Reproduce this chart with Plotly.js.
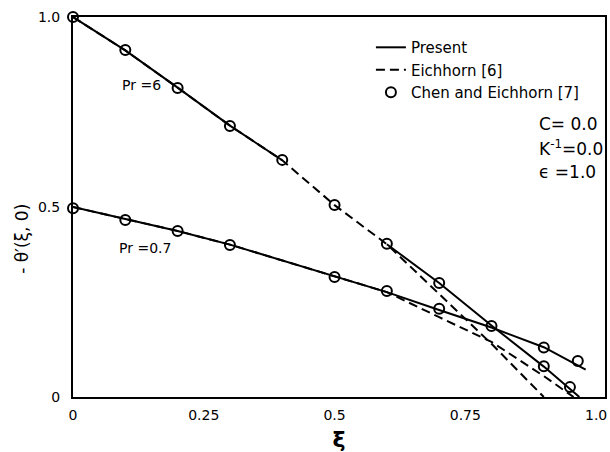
<!DOCTYPE html>
<html>
<head>
<meta charset="utf-8">
<script src="https://cdn.plot.ly/plotly-3.0.1.min.js"></script>
<style>html,body{margin:0;padding:0;background:#fff;}#chart{width:610px;height:452px;}</style>
</head>
<body>
<div id="chart"></div>
<script>
// Present (solid) curves
const presentXi6 = [0, 0.1, 0.2, 0.3, 0.4, 0.5, 0.6, 0.7, 0.8, 0.9, 0.968];
const presentPr6 = [1.0, 0.912, 0.814, 0.714, 0.623, null, 0.402, 0.300, 0.188, 0.080, 0.0];
const presentXi07 = [0, 0.1, 0.2, 0.3, 0.4, 0.5, 0.6, 0.7, 0.8, 0.9, 0.98];
const presentPr07 = [0.5, 0.468, 0.437, 0.401, 0.360, 0.318, 0.276, 0.229, 0.183, 0.131, 0.072];
// Eichhorn [6] (dashed)
const eichXi6 = [0, 0.1, 0.2, 0.3, 0.4, 0.5, 0.6, 0.7, 0.8, 0.9];
const eichPr6 = [1.0, 0.912, 0.814, 0.714, 0.623, 0.505, 0.402, 0.272, 0.140, 0.0];
const eichXi07 = [0, 0.1, 0.2, 0.3, 0.4, 0.5, 0.6, 0.7, 0.8, 0.9, 0.957];
const eichPr07 = [0.5, 0.468, 0.437, 0.401, 0.360, 0.318, 0.276, 0.210, 0.145, 0.055, 0.0];
// Chen and Eichhorn [7] (circles)
const chenXi6 = [0, 0.1, 0.2, 0.3, 0.4, 0.5, 0.6, 0.7, 0.8, 0.9, 0.95];
const chenPr6 = [1.0, 0.913, 0.813, 0.713, 0.624, 0.505, 0.403, 0.300, 0.187, 0.081, 0.026];
const chenXi07 = [0, 0.1, 0.2, 0.3, 0.5, 0.6, 0.7, 0.9, 0.965];
const chenPr07 = [0.497, 0.466, 0.437, 0.400, 0.316, 0.279, 0.232, 0.130, 0.095];
// Axis ticks
const xTickVals = [0, 0.25, 0.5, 0.75, 1.0];
const xTickText = ["0", "0.25", "0.5", "0.75", "1.0"];
const yTickVals = [0, 0.5, 1.0];
const yTickText = ["0", "0.5", "1.0"];

const FONT = "DejaVu Sans, sans-serif";
const dashLine = {color: "#000", width: 2, dash: "9px,5px"};
const solidLine = {color: "#000", width: 2};
const circ = {symbol: "circle-open", size: 10, color: "#000", line: {width: 2, color: "#000"}};

const traces = [
  {x: eichXi6, y: eichPr6, mode: "lines", line: dashLine, name: "Eichhorn [6]", legendrank: 2, showlegend: true, cliponaxis: false},
  {x: eichXi07, y: eichPr07, mode: "lines", line: dashLine, name: "Eichhorn [6]", showlegend: false, cliponaxis: false},
  {x: presentXi6, y: presentPr6, mode: "lines", line: solidLine, name: "Present", legendrank: 1, connectgaps: false, cliponaxis: false},
  {x: presentXi07, y: presentPr07, mode: "lines", line: solidLine, name: "Present", showlegend: false, cliponaxis: false},
  {x: chenXi6, y: chenPr6, mode: "markers", marker: circ, name: "Chen and Eichhorn [7]", legendrank: 3, cliponaxis: false},
  {x: chenXi07, y: chenPr07, mode: "markers", marker: circ, name: "Chen and Eichhorn [7]", showlegend: false, cliponaxis: false}
];

const note = (x, y, text, size) => ({xref: "paper", yref: "paper", x: x, y: y, xanchor: "left", yanchor: "middle",
  text: text, showarrow: false, font: {family: FONT, size: size, color: "#000"}});

const layout = {
  width: 610, height: 452,
  margin: {l: 73, r: 5, t: 17, b: 55},
  paper_bgcolor: "#fff", plot_bgcolor: "#fff",
  font: {family: FONT, size: 14, color: "#000"},
  showlegend: true,
  legend: {x: 0.56, y: 0.963, xanchor: "left", yanchor: "top", bgcolor: "rgba(0,0,0,0)",
           font: {family: FONT, size: 15, color: "#000"}, tracegroupgap: 0},
  xaxis: {range: [0, 1.017], tickvals: xTickVals, ticktext: xTickText, showgrid: false, zeroline: false,
          showline: true, mirror: true, linecolor: "#000", linewidth: 2, ticks: "",
          ticklabelstandoff: 4, tickfont: {family: FONT, size: 14, color: "#000"},
          title: {text: "<b>ξ</b>", font: {family: FONT, size: 22, color: "#000"}, standoff: 14}},
  yaxis: {range: [0, 1.0], tickvals: yTickVals, ticktext: yTickText, showgrid: false, zeroline: false,
          showline: true, mirror: true, linecolor: "#000", linewidth: 2, ticks: "",
          ticklabelstandoff: 8, tickfont: {family: FONT, size: 14, color: "#000"}},
  annotations: [
    {xref: "paper", yref: "paper", x: -0.096, y: 0.416, xanchor: "center", yanchor: "middle",
     text: "- θ′(ξ, 0)", textangle: -90, showarrow: false,
     font: {family: FONT, size: 17, color: "#000"}},
    {xref: "x", yref: "y", x: 0.09, y: 0.821, xanchor: "left", yanchor: "middle", text: "Pr =6", showarrow: false,
     font: {family: FONT, size: 14, color: "#000"}},
    {xref: "x", yref: "y", x: 0.085, y: 0.392, xanchor: "left", yanchor: "middle", text: "Pr =0.7", showarrow: false,
     font: {family: FONT, size: 14, color: "#000"}},
    note(0.872, 0.718, "C= 0.0", 17),
    note(0.872, 0.655, "K<sup>-1</sup>=0.0", 17),
    note(0.872, 0.592, "ϵ =1.0", 17)
  ]
};

Plotly.newPlot("chart", traces, layout, {staticPlot: true, displayModeBar: false});
</script>
</body>
</html>
